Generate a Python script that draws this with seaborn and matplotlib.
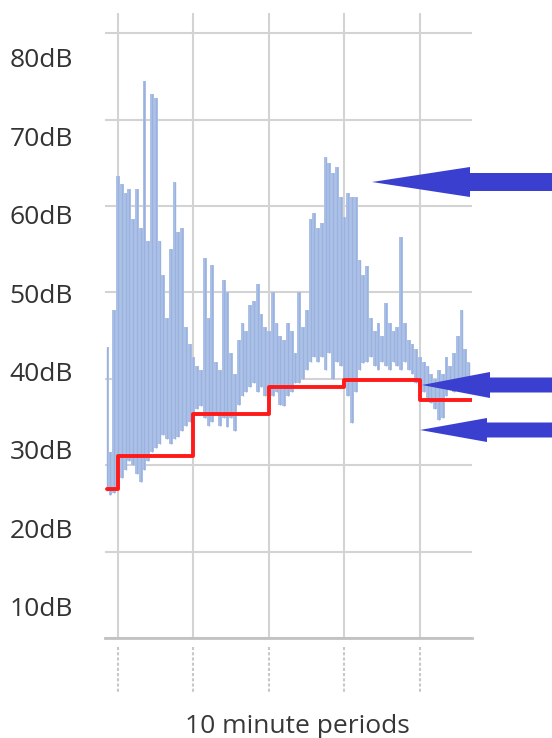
import matplotlib.pyplot as plt
from matplotlib.patches import FancyArrow
import numpy as np
import pandas as pd
import seaborn as sns

sns.set_style('white')
plt.rcParams['font.family'] = ['Open Sans', 'DejaVu Sans']

# noise trace, read as min / max level in each half-minute bin (minutes)
bin_start = -1.5
bin_step = 0.5
noise_hi = [43.7, 31.5, 48.0, 63.5, 62.5, 61.5, 62.0, 58.5, 62.0, 57.5,
            74.5, 56.0, 73.0, 72.5, 56.0, 52.0, 47.0, 55.0, 62.8, 57.0,
            57.5, 46.0, 44.0, 42.5, 41.5, 41.0, 54.0, 47.0, 53.2, 42.0,
            41.0, 51.4, 50.0, 43.0, 40.5, 44.5, 46.5, 45.5, 48.5, 49.0,
            51.0, 47.5, 46.0, 45.5, 50.0, 46.5, 45.0, 44.5, 46.5, 45.5,
            43.0, 50.0, 46.0, 48.0, 58.5, 59.2, 57.5, 58.0, 65.7, 65.0,
            63.8, 64.5, 61.0, 58.7, 61.5, 61.0, 61.0, 53.7, 52.0, 53.0,
            47.0, 45.5, 46.5, 45.0, 48.8, 46.5, 45.5, 46.0, 56.4, 46.5,
            44.5, 44.0, 43.5, 42.5, 42.0, 41.5, 40.5, 40.0, 41.0, 40.5,
            42.5, 41.5, 43.0, 45.0, 48.0, 43.5, 42.0]
noise_lo = [27.0, 26.5, 26.8, 27.2, 28.5, 29.5, 30.5, 30.0, 29.0, 28.0,
            29.5, 30.5, 31.5, 32.0, 32.5, 33.5, 33.0, 32.5, 33.0, 33.3,
            34.0, 34.5, 35.0, 36.0, 36.5, 36.8, 35.5, 34.5, 35.0, 36.0,
            34.5, 35.5, 34.4, 35.5, 34.0, 37.0, 38.0, 38.5, 39.0, 39.5,
            38.5, 39.0, 38.0, 37.5, 38.0, 38.5, 37.0, 36.8, 38.0, 38.5,
            39.5, 39.5, 40.0, 41.0, 42.0, 42.5, 42.0, 42.5, 41.0, 43.0,
            40.0, 42.0, 41.5, 40.0, 38.0, 34.9, 38.5, 41.0, 41.8, 42.0,
            42.5, 41.5, 41.0, 42.0, 41.5, 41.0, 42.0, 41.5, 41.0, 42.0,
            41.0, 40.5, 39.5, 39.0, 38.5, 37.5, 37.2, 36.5, 35.2, 35.5,
            38.0, 38.7, 38.5, 39.5, 40.0, 40.2, 40.2]

# background level for each 10 minute period (last one partial)
period_edges = [-1.5, 0, 10, 20, 30, 40, 46.9]
l90 = [27.3, 31.1, 35.9, 39.0, 39.9, 37.5]

y_ticks = [10, 20, 30, 40, 50, 60, 70, 80]
y_labels = ['%ddB' % v for v in y_ticks]
x_ticks = [0, 10, 20, 30, 40]

n = min(len(noise_hi), len(noise_lo))
t = bin_start + bin_step * np.arange(n)
hi = np.array(noise_hi[:n])
lo = np.array(noise_lo[:n])

fig = plt.figure(figsize=(5.52, 7.38), dpi=100)
ax = fig.add_axes([105 / 552, 100 / 738, 367 / 552, 625 / 738])

# band + streaks so it reads like a dense noisy trace
ax.fill_between(t, lo, hi, step='mid', color='#adc1e7', lw=0, zorder=2)
ax.vlines(t, lo, hi, colors='#9ab2e0', lw=1.0, zorder=2)

df_l90 = pd.DataFrame({'minute': period_edges, 'level': l90 + [l90[-1]]})
sns.lineplot(data=df_l90, x='minute', y='level', drawstyle='steps-post',
             color='#ff1a1a', lw=2.8, ax=ax, zorder=3)

ax.set_xlim(-1.72, 46.89)
ax.set_ylim(10, 82.34)
ax.set_xticks(x_ticks)
ax.set_yticks(y_ticks)
ax.set_xticklabels([])
ax.set_yticklabels([])
ax.tick_params(length=0)
ax.set_axisbelow(True)
ax.grid(True, color='#d3d3d3', lw=1.5)
for side in ['top', 'right', 'left']:
    ax.spines[side].set_visible(False)
ax.spines['bottom'].set_color('#c2c2c2')
ax.spines['bottom'].set_linewidth(2)
ax.set_ylabel('')

# dotted tick marks below the axis
ax.vlines(x_ticks, -0.0144, -0.088, transform=ax.get_xaxis_transform(),
          clip_on=False, colors='#c8c8c8', lw=1.5, linestyles=(0, (1.5, 1)))

ax.set_xlabel('10 minute periods', fontsize=19, color='#383838')
ax.xaxis.label.set_va('center')
ax.xaxis.set_label_coords(0.523, -0.142)

# the dB labels sit on their own (slightly tighter) scale
ax2 = ax.twinx()
ax2.set_ylim(6.02, 85.70)
ax2.set_yticks(y_ticks)
ax2.set_yticklabels(y_labels, fontsize=19, color='#333333')
ax2.tick_params(axis='y', left=True, right=False, labelleft=True,
                labelright=False, length=0, pad=23)
ax2.grid(False)
for s in ax2.spines.values():
    s.set_visible(False)

# three pointer arrows on the right (tip x, y, head base x, head width, shaft width) in px
arrows = [(372, 182, 470, 30, 18),
          (422, 385, 490, 26, 15),
          (420, 430, 487, 24, 15)]
for tip_x, tip_y, base_x, head_w, shaft_w in arrows:
    x0, y0 = 560 / 100, (738 - tip_y) / 100
    x1 = tip_x / 100
    arr = FancyArrow(x0, y0, x1 - x0, 0, width=shaft_w / 100,
                     head_width=head_w / 100, head_length=(base_x - tip_x) / 100,
                     length_includes_head=True, transform=fig.dpi_scale_trans,
                     color='#3a3fcf', lw=0)
    fig.add_artist(arr)

fig.savefig('out.png', dpi=100)
